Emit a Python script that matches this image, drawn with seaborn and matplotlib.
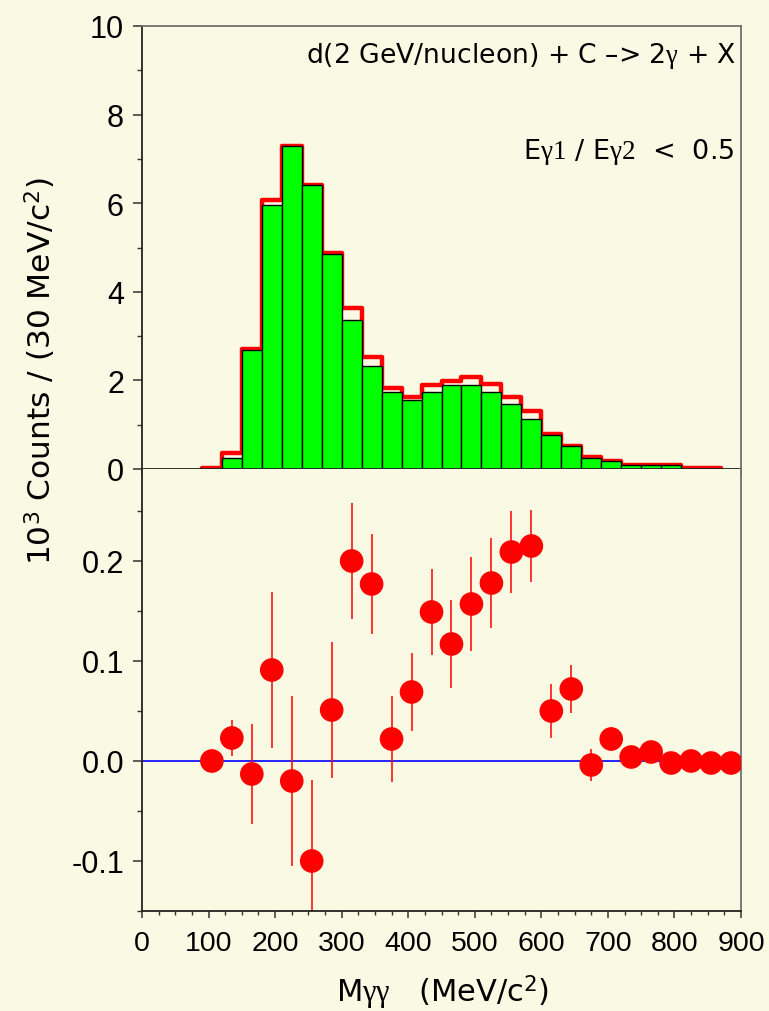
import numpy as np
import pandas as pd
import matplotlib
matplotlib.use("Agg")
import matplotlib.pyplot as plt
from matplotlib.ticker import MultipleLocator, FormatStrFormatter
import seaborn as sns

sns.set_style("ticks")
plt.rcParams['font.family'] = ['Liberation Sans', 'DejaVu Sans']
plt.rcParams['text.color'] = 'black'
plt.rcParams['xtick.labelcolor'] = 'black'
plt.rcParams['ytick.labelcolor'] = 'black'
plt.rcParams['mathtext.fontset'] = 'custom'
plt.rcParams['mathtext.rm'] = 'Liberation Serif'
plt.rcParams['mathtext.it'] = 'Liberation Serif'
plt.rcParams['mathtext.sf'] = 'DejaVu Sans'

# ---------------- data ----------------
bin_edges = [90, 120, 150, 180, 210, 240, 270, 300, 330, 360, 390, 420, 450, 480,
             510, 540, 570, 600, 630, 660, 690, 720, 750, 780, 810, 840, 870]
bin_centers = [105, 135, 165, 195, 225, 255, 285, 315, 345, 375, 405, 435, 465,
               495, 525, 555, 585, 615, 645, 675, 705, 735, 765, 795, 825, 855]
counts_red = [0.02, 0.36, 2.71, 6.07, 7.30, 6.42, 4.88, 3.63, 2.52, 1.82, 1.63, 1.90,
              1.99, 2.08, 1.92, 1.63, 1.30, 0.78, 0.53, 0.28, 0.18, 0.10, 0.10, 0.10,
              0.02, 0.02]
green_edges = [120, 150, 180, 210, 240, 270, 300, 330, 360, 390, 420, 450, 480,
               510, 540, 570, 600, 630, 660, 690, 720, 750, 780, 810]
green_centers = [135, 165, 195, 225, 255, 285, 315, 345, 375, 405, 435, 465,
                 495, 525, 555, 585, 615, 645, 675, 705, 735, 765, 795]
counts_green = [0.24, 2.69, 5.97, 7.28, 6.40, 4.85, 3.37, 2.33, 1.73, 1.55, 1.73,
                1.90, 1.90, 1.73, 1.46, 1.13, 0.77, 0.51, 0.25, 0.17, 0.09, 0.09, 0.09]

diff_x = [105, 135, 165, 195, 225, 255, 285, 315, 345, 375, 405, 435, 465, 495,
          525, 555, 585, 615, 645, 675, 705, 735, 765, 795, 825, 855, 885]
diff_y = [0.000, 0.023, -0.013, 0.091, -0.020, -0.100, 0.051, 0.200, 0.177, 0.022,
          0.069, 0.149, 0.117, 0.157, 0.178, 0.209, 0.215, 0.050, 0.072, -0.004,
          0.022, 0.004, 0.009, -0.002, 0.000, -0.002, -0.002]
diff_err = [0.0, 0.018, 0.050, 0.078, 0.085, 0.081, 0.068, 0.058, 0.050, 0.043,
            0.039, 0.043, 0.044, 0.047, 0.045, 0.041, 0.036, 0.027, 0.024, 0.016,
            0.012, 0.0, 0.0, 0.0, 0.0, 0.0, 0.0]

bg = '#FAFAE4'
W, H = 769, 1012
fig = plt.figure(figsize=(W / 100, H / 100), dpi=100, facecolor=bg)

L, R = 142 / W, 741 / W
ax1 = fig.add_axes([L, 1 - 470 / H, R - L, (470 - 27) / H], facecolor=bg)
ax2 = fig.add_axes([L, 1 - 912 / H, R - L, (912 - 470) / H], facecolor=bg)

# ------------- upper panel -------------
sns.histplot(x=bin_centers, weights=counts_red, bins=bin_edges, element='step',
             fill=False, color='#FF0000', linewidth=3.2, ax=ax1, zorder=1)
sns.histplot(x=green_centers, weights=counts_green, bins=green_edges,
             color='#00FF00', edgecolor='black', linewidth=1.0, alpha=1,
             ax=ax1, zorder=2)
ax1.set_xlim(0, 900)
ax1.set_ylim(0, 10)
ax1.set_xlabel('')
ax1.set_ylabel('')
ax1.yaxis.set_major_locator(MultipleLocator(2))
ax1.yaxis.set_minor_locator(MultipleLocator(1))
ax1.xaxis.set_major_locator(MultipleLocator(100))
ax1.xaxis.set_minor_locator(MultipleLocator(25))
ax1.tick_params(axis='x', labelbottom=False)

ax1.text(0.993, 0.918, r'd(2 GeV/nucleon) + C –> 2$\gamma$ + X',
         transform=ax1.transAxes, ha='right', va='baseline', fontsize=19.2,
         family='DejaVu Sans')
ax1.text(0.990, 0.702, r'E$\gamma\mathrm{1}$ / E$\gamma\mathrm{2}$  <  0.5',
         transform=ax1.transAxes, ha='right', va='baseline', fontsize=19.5,
         family='DejaVu Sans')

# ------------- lower panel -------------
ax2.axhline(0, color='#0000FF', linewidth=1.2, zorder=1)
ax2.errorbar(diff_x, diff_y, yerr=diff_err, fmt='none', ecolor='#FF0000',
             elinewidth=1.1, zorder=2)
sns.scatterplot(x=diff_x, y=diff_y, s=290, color='#FF0000', edgecolor='none',
                marker='o', ax=ax2, zorder=3)
ax2.set_xlim(0, 900)
ax2.set_ylim(-0.15, 0.292)
ax2.yaxis.set_major_locator(MultipleLocator(0.1))
ax2.yaxis.set_minor_locator(MultipleLocator(0.05))
ax2.yaxis.set_major_formatter(FormatStrFormatter('%.1f'))
ax2.xaxis.set_major_locator(MultipleLocator(100))
ax2.xaxis.set_minor_locator(MultipleLocator(25))
ax2.set_xlabel('')
ax2.set_ylabel('')

for ax in (ax1, ax2):
    for side in ('left', 'bottom'):
        ax.spines[side].set_color('#222222')
        ax.spines[side].set_linewidth(1.3)
    for side in ('top', 'right'):
        ax.spines[side].set_visible(True)
        ax.spines[side].set_color('#707070')
        ax.spines[side].set_linewidth(1.3)
    ax.tick_params(axis='y', which='major', direction='out', length=6.5,
                   width=1.1, color='#333333', pad=6.5)
    ax.tick_params(axis='y', which='minor', direction='out', length=3.5,
                   width=1.0, color='#333333')
    ax.tick_params(axis='x', which='major', direction='out', length=5,
                   width=1.1, color='#333333')
    ax.tick_params(axis='x', which='minor', direction='out', length=3,
                   width=1.0, color='#333333')
    ax.tick_params(axis='x', which='both', top=False)
    ax.tick_params(axis='y', which='both', right=False)
    for lab in ax.get_yticklabels():
        lab.set_fontfamily('Liberation Sans')
        lab.set_fontsize(22)
        lab.set_color('black')

ax2.spines['top'].set_visible(False)
for lab in ax2.get_xticklabels():
    lab.set_fontfamily('Liberation Sans')
    lab.set_fontsize(20.5)
    lab.set_color('black')
ax2.tick_params(axis='x', pad=9)

fig.text(40 / W, 1 - 371 / H, r'10$^\mathsf{3}$ Counts / (30 MeV/c$^\mathsf{2}$)',
         rotation=90, ha='center', va='center', fontsize=22.5, family='DejaVu Sans')
fig.text((L + R) / 2 + 1 / W, 1 - 993 / H,
         r'M$\gamma\gamma$   (MeV/c$^\mathsf{2}$)', ha='center', va='center',
         fontsize=22, family='DejaVu Sans')

fig.savefig('out.png', dpi=100, facecolor=bg)
